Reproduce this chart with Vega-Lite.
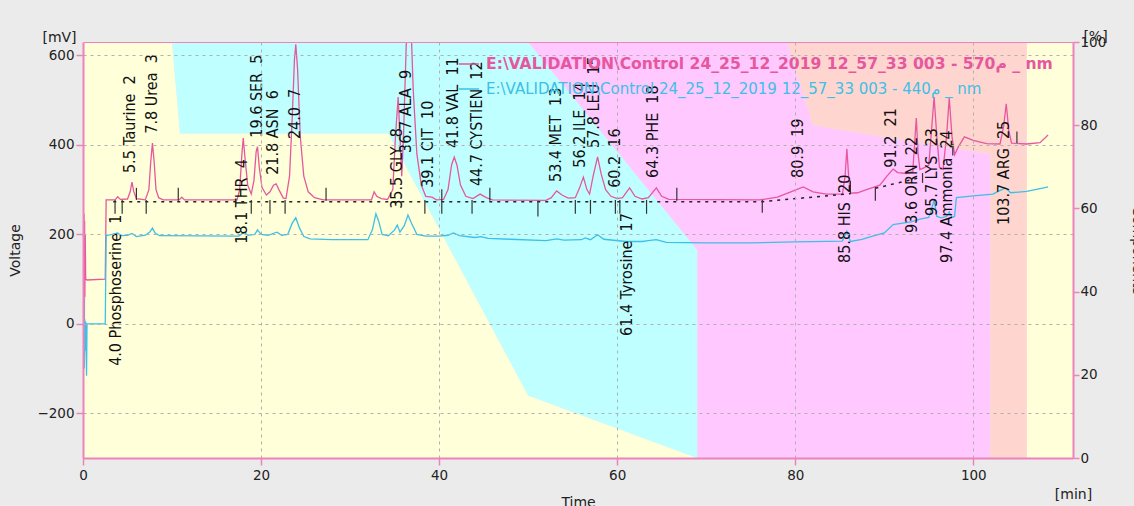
{
"$schema": "https://vega.github.io/schema/vega-lite/v6.json",
"width": 990, "height": 416,
"autosize": {"type": "none"},
"padding": {"left": 83, "top": 42, "right": 61, "bottom": 48},
"background": "#ebebeb",
"config": {"view": {"stroke": null}, "font": "DejaVu Sans"},
"datasets": {
"bands": [
{"b":"A","t":0,"lo":0,"hi":100},{"b":"A","t":10,"lo":0,"hi":100},{"b":"A","t":10.9,"lo":0,"hi":78},{"b":"A","t":34.3,"lo":0,"hi":78},{"b":"A","t":50,"lo":0,"hi":15},{"b":"A","t":69,"lo":0,"hi":0},{"b":"A","t":106,"lo":0,"hi":0},{"b":"A","t":106.01,"lo":0,"hi":100},{"b":"A","t":111.2,"lo":0,"hi":100},
{"b":"B","t":0,"lo":100,"hi":100},{"b":"B","t":10,"lo":100,"hi":100},{"b":"B","t":10.9,"lo":78,"hi":100},{"b":"B","t":34.3,"lo":78,"hi":100},{"b":"B","t":50,"lo":15,"hi":100},{"b":"B","t":69,"lo":0,"hi":50},{"b":"B","t":69.01,"lo":0,"hi":0},{"b":"B","t":111.2,"lo":0,"hi":0},
{"b":"C","t":0,"lo":100,"hi":100},{"b":"C","t":50,"lo":100,"hi":100},{"b":"C","t":69,"lo":50,"hi":100},{"b":"C","t":69.01,"lo":0,"hi":100},{"b":"C","t":79.1,"lo":0,"hi":100},{"b":"C","t":82,"lo":0,"hi":80},{"b":"C","t":101.9,"lo":0,"hi":73},{"b":"C","t":101.91,"lo":0,"hi":0},{"b":"C","t":111.2,"lo":0,"hi":0},
{"b":"D","t":0,"lo":100,"hi":100},{"b":"D","t":79.1,"lo":100,"hi":100},{"b":"D","t":82,"lo":80,"hi":100},{"b":"D","t":101.9,"lo":73,"hi":100},{"b":"D","t":101.91,"lo":0,"hi":100},{"b":"D","t":106,"lo":0,"hi":100},{"b":"D","t":106.01,"lo":0,"hi":0},{"b":"D","t":111.2,"lo":0,"hi":0}
],
"traces": [
{"s":"570","t":0,"v":240},{"s":"570","t":0.03,"v":-20},{"s":"570","t":0.06,"v":250},{"s":"570","t":0.09,"v":30},{"s":"570","t":0.12,"v":245},{"s":"570","t":0.15,"v":-60},{"s":"570","t":0.18,"v":230},{"s":"570","t":0.21,"v":60},{"s":"570","t":0.25,"v":200},{"s":"570","t":0.3,"v":100},{"s":"570","t":0.45,"v":98},{"s":"570","t":2.5,"v":100},{"s":"570","t":2.6,"v":277},{"s":"570","t":3.6,"v":277},{"s":"570","t":3.9,"v":284},{"s":"570","t":4.2,"v":278},{"s":"570","t":5.0,"v":279},{"s":"570","t":5.3,"v":295},{"s":"570","t":5.5,"v":317},{"s":"570","t":5.7,"v":296},{"s":"570","t":6.0,"v":280},{"s":"570","t":7.0,"v":277},{"s":"570","t":7.4,"v":300},{"s":"570","t":7.6,"v":360},{"s":"570","t":7.8,"v":404},{"s":"570","t":8.0,"v":360},{"s":"570","t":8.2,"v":300},{"s":"570","t":8.5,"v":282},{"s":"570","t":9.0,"v":277},{"s":"570","t":10.8,"v":277},{"s":"570","t":11.1,"v":283},{"s":"570","t":11.4,"v":277},{"s":"570","t":17.3,"v":277},{"s":"570","t":17.6,"v":300},{"s":"570","t":17.85,"v":380},{"s":"570","t":18.0,"v":415},{"s":"570","t":18.2,"v":370},{"s":"570","t":18.5,"v":310},{"s":"570","t":18.9,"v":290},{"s":"570","t":19.2,"v":320},{"s":"570","t":19.45,"v":385},{"s":"570","t":19.6,"v":396},{"s":"570","t":19.8,"v":350},{"s":"570","t":20.1,"v":305},{"s":"570","t":20.6,"v":288},{"s":"570","t":21.0,"v":295},{"s":"570","t":21.4,"v":310},{"s":"570","t":21.7,"v":313},{"s":"570","t":22.0,"v":300},{"s":"570","t":22.5,"v":281},{"s":"570","t":22.8,"v":280},{"s":"570","t":23.2,"v":330},{"s":"570","t":23.5,"v":460},{"s":"570","t":23.75,"v":590},{"s":"570","t":23.9,"v":625},{"s":"570","t":24.1,"v":570},{"s":"570","t":24.4,"v":420},{"s":"570","t":24.8,"v":330},{"s":"570","t":25.3,"v":295},{"s":"570","t":26.0,"v":282},{"s":"570","t":27.0,"v":277},{"s":"570","t":32.4,"v":277},{"s":"570","t":32.7,"v":295},{"s":"570","t":33.0,"v":285},{"s":"570","t":33.5,"v":280},{"s":"570","t":34.2,"v":278},{"s":"570","t":34.8,"v":300},{"s":"570","t":35.1,"v":420},{"s":"570","t":35.4,"v":507},{"s":"570","t":35.6,"v":420},{"s":"570","t":35.8,"v":330},{"s":"570","t":36.0,"v":420},{"s":"570","t":36.3,"v":620},{"s":"570","t":36.6,"v":700},{"s":"570","t":36.8,"v":690},{"s":"570","t":37.1,"v":520},{"s":"570","t":37.5,"v":380},{"s":"570","t":38.0,"v":310},{"s":"570","t":38.5,"v":285},{"s":"570","t":39.2,"v":283},{"s":"570","t":39.7,"v":277},{"s":"570","t":40.5,"v":278},{"s":"570","t":41.0,"v":300},{"s":"570","t":41.4,"v":355},{"s":"570","t":41.7,"v":373},{"s":"570","t":42.0,"v":355},{"s":"570","t":42.4,"v":310},{"s":"570","t":43.0,"v":285},{"s":"570","t":43.8,"v":280},{"s":"570","t":44.6,"v":290},{"s":"570","t":45.3,"v":282},{"s":"570","t":46.0,"v":277},{"s":"570","t":52.0,"v":276},{"s":"570","t":52.6,"v":282},{"s":"570","t":53.2,"v":297},{"s":"570","t":53.8,"v":288},{"s":"570","t":54.5,"v":281},{"s":"570","t":55.3,"v":282},{"s":"570","t":55.8,"v":305},{"s":"570","t":56.2,"v":328},{"s":"570","t":56.6,"v":300},{"s":"570","t":56.9,"v":290},{"s":"570","t":57.3,"v":330},{"s":"570","t":57.8,"v":373},{"s":"570","t":58.2,"v":335},{"s":"570","t":58.7,"v":300},{"s":"570","t":59.3,"v":285},{"s":"570","t":60.0,"v":280},{"s":"570","t":60.6,"v":282},{"s":"570","t":61.4,"v":304},{"s":"570","t":62.0,"v":285},{"s":"570","t":62.8,"v":279},{"s":"570","t":63.5,"v":282},{"s":"570","t":64.4,"v":304},{"s":"570","t":65.0,"v":285},{"s":"570","t":65.8,"v":278},{"s":"570","t":76.0,"v":277},{"s":"570","t":78.0,"v":283},{"s":"570","t":79.5,"v":295},{"s":"570","t":80.9,"v":306},{"s":"570","t":82.0,"v":295},{"s":"570","t":83.5,"v":290},{"s":"570","t":85.3,"v":290},{"s":"570","t":85.6,"v":330},{"s":"570","t":85.8,"v":391},{"s":"570","t":86.0,"v":330},{"s":"570","t":86.2,"v":292},{"s":"570","t":87.0,"v":293},{"s":"570","t":88.0,"v":300},{"s":"570","t":89.5,"v":310},{"s":"570","t":90.3,"v":330},{"s":"570","t":91.0,"v":346},{"s":"570","t":91.5,"v":338},{"s":"570","t":92.5,"v":336},{"s":"570","t":93.2,"v":340},{"s":"570","t":93.4,"v":400},{"s":"570","t":93.6,"v":460},{"s":"570","t":93.8,"v":380},{"s":"570","t":94.0,"v":345},{"s":"570","t":94.5,"v":349},{"s":"570","t":95.0,"v":355},{"s":"570","t":95.3,"v":430},{"s":"570","t":95.6,"v":507},{"s":"570","t":95.9,"v":420},{"s":"570","t":96.2,"v":350},{"s":"570","t":96.6,"v":345},{"s":"570","t":97.0,"v":420},{"s":"570","t":97.3,"v":505},{"s":"570","t":97.6,"v":420},{"s":"570","t":97.9,"v":378},{"s":"570","t":98.3,"v":395},{"s":"570","t":99.0,"v":418},{"s":"570","t":100.0,"v":410},{"s":"570","t":101.5,"v":403},{"s":"570","t":103.0,"v":402},{"s":"570","t":103.4,"v":440},{"s":"570","t":103.7,"v":492},{"s":"570","t":104.0,"v":430},{"s":"570","t":104.3,"v":404},{"s":"570","t":106.0,"v":402},{"s":"570","t":107.5,"v":405},{"s":"570","t":108.4,"v":422},
{"s":"440","t":0,"v":0},{"s":"440","t":0.05,"v":-90},{"s":"440","t":0.1,"v":60},{"s":"440","t":0.15,"v":-100},{"s":"440","t":0.2,"v":10},{"s":"440","t":0.25,"v":-60},{"s":"440","t":0.3,"v":5},{"s":"440","t":0.4,"v":-116},{"s":"440","t":0.45,"v":0},{"s":"440","t":2.5,"v":0},{"s":"440","t":2.6,"v":197},{"s":"440","t":3.9,"v":203},{"s":"440","t":4.3,"v":197},{"s":"440","t":5.0,"v":198},{"s":"440","t":5.5,"v":202},{"s":"440","t":6.0,"v":195},{"s":"440","t":7.0,"v":198},{"s":"440","t":7.5,"v":205},{"s":"440","t":7.8,"v":214},{"s":"440","t":8.1,"v":203},{"s":"440","t":8.6,"v":197},{"s":"440","t":17.5,"v":196},{"s":"440","t":18.1,"v":205},{"s":"440","t":18.5,"v":198},{"s":"440","t":19.3,"v":200},{"s":"440","t":19.6,"v":210},{"s":"440","t":20.0,"v":200},{"s":"440","t":20.8,"v":198},{"s":"440","t":21.5,"v":203},{"s":"440","t":21.8,"v":205},{"s":"440","t":22.3,"v":198},{"s":"440","t":23.0,"v":200},{"s":"440","t":23.5,"v":225},{"s":"440","t":23.9,"v":237},{"s":"440","t":24.3,"v":215},{"s":"440","t":24.8,"v":195},{"s":"440","t":25.5,"v":190},{"s":"440","t":28.0,"v":188},{"s":"440","t":32.0,"v":188},{"s":"440","t":32.5,"v":210},{"s":"440","t":32.9,"v":246},{"s":"440","t":33.2,"v":230},{"s":"440","t":33.6,"v":200},{"s":"440","t":34.3,"v":197},{"s":"440","t":35.0,"v":210},{"s":"440","t":35.3,"v":221},{"s":"440","t":35.6,"v":205},{"s":"440","t":36.1,"v":220},{"s":"440","t":36.5,"v":243},{"s":"440","t":36.9,"v":225},{"s":"440","t":37.5,"v":200},{"s":"440","t":38.5,"v":196},{"s":"440","t":40.0,"v":196},{"s":"440","t":41.0,"v":198},{"s":"440","t":41.6,"v":203},{"s":"440","t":42.3,"v":197},{"s":"440","t":44.0,"v":193},{"s":"440","t":44.7,"v":195},{"s":"440","t":45.5,"v":191},{"s":"440","t":48.0,"v":189},{"s":"440","t":52.0,"v":186},{"s":"440","t":53.2,"v":190},{"s":"440","t":54.0,"v":187},{"s":"440","t":56.0,"v":188},{"s":"440","t":56.4,"v":192},{"s":"440","t":57.0,"v":188},{"s":"440","t":57.8,"v":199},{"s":"440","t":58.5,"v":189},{"s":"440","t":61.0,"v":184},{"s":"440","t":62.8,"v":184},{"s":"440","t":63.5,"v":186},{"s":"440","t":64.4,"v":188},{"s":"440","t":65.5,"v":182},{"s":"440","t":70.0,"v":181},{"s":"440","t":75.0,"v":181},{"s":"440","t":80.0,"v":183},{"s":"440","t":85.3,"v":185},{"s":"440","t":85.8,"v":207},{"s":"440","t":86.2,"v":184},{"s":"440","t":87.5,"v":189},{"s":"440","t":88.5,"v":195},{"s":"440","t":90.0,"v":203},{"s":"440","t":91.0,"v":222},{"s":"440","t":93.0,"v":228},{"s":"440","t":94.0,"v":234},{"s":"440","t":95.0,"v":238},{"s":"440","t":95.3,"v":255},{"s":"440","t":95.6,"v":277},{"s":"440","t":95.9,"v":240},{"s":"440","t":96.4,"v":237},{"s":"440","t":97.0,"v":240},{"s":"440","t":97.3,"v":250},{"s":"440","t":97.6,"v":238},{"s":"440","t":97.9,"v":240},{"s":"440","t":98.1,"v":282},{"s":"440","t":100.0,"v":286},{"s":"440","t":102.2,"v":290},{"s":"440","t":103.6,"v":304},{"s":"440","t":104.2,"v":293},{"s":"440","t":106.0,"v":296},{"s":"440","t":107.9,"v":304},{"s":"440","t":108.4,"v":306}
],
"base": [
{"g":1,"t":3.4,"v":273},{"g":1,"t":76.3,"v":273},{"g":1,"t":86.2,"v":291},
{"g":2,"t":89.0,"v":303},{"g":2,"t":94.3,"v":328}
],
"marks": [
{"t":3.6,"a":246,"b":277},{"t":4.4,"a":246,"b":277},{"t":6.0,"a":277,"b":304},{"t":7.1,"a":246,"b":277},{"t":10.7,"a":275,"b":304},{"t":18.9,"a":246,"b":277},{"t":21.0,"a":246,"b":277},{"t":22.7,"a":246,"b":277},{"t":27.3,"a":275,"b":304},{"t":38.4,"a":246,"b":277},{"t":40.3,"a":246,"b":301},{"t":43.7,"a":246,"b":277},{"t":45.7,"a":275,"b":304},{"t":51.1,"a":240,"b":275},{"t":55.3,"a":246,"b":277},{"t":57.0,"a":246,"b":277},{"t":59.8,"a":246,"b":277},{"t":60.3,"a":246,"b":277},{"t":63.3,"a":246,"b":277},{"t":66.7,"a":275,"b":304},{"t":76.3,"a":248,"b":277},{"t":86.2,"a":290,"b":320},{"t":89.0,"a":275,"b":306},{"t":94.3,"a":315,"b":337},{"t":97.7,"a":376,"b":402},{"t":104.9,"a":404,"b":430}
],
"labels": [
{"t":3.7,"v":-94,"txt":"4.0 Phosphoserine\u00a0\u00a01"},
{"t":5.3,"v":337,"txt":"5.5 Taurine\u00a0\u00a02"},
{"t":7.75,"v":425,"txt":"7.8 Urea\u00a0\u00a03"},
{"t":17.85,"v":179,"txt":"18.1 THR\u00a0\u00a04"},
{"t":19.55,"v":416,"txt":"19.6 SER\u00a0\u00a05"},
{"t":21.35,"v":333,"txt":"21.8 ASN\u00a0\u00a06"},
{"t":23.8,"v":413,"txt":"24.0\u00a0\u00a07"},
{"t":35.3,"v":257,"txt":"35.5 GLY\u00a0\u00a08"},
{"t":36.3,"v":382,"txt":"36.7 ALA\u00a0\u00a09"},
{"t":38.75,"v":304,"txt":"39.1 CIT\u00a0\u00a010"},
{"t":41.6,"v":393,"txt":"41.8 VAL\u00a0\u00a011"},
{"t":44.25,"v":308,"txt":"44.7 CYSTIEN\u00a0\u00a012"},
{"t":53.15,"v":317,"txt":"53.4 MET\u00a0\u00a013"},
{"t":55.85,"v":349,"txt":"56.2 ILE\u00a0\u00a014"},
{"t":57.4,"v":393,"txt":"57.8 LEU\u00a0\u00a015"},
{"t":59.8,"v":304,"txt":"60.2\u00a0\u00a016"},
{"t":61.1,"v":-27,"txt":"61.4 Tyrosine\u00a0\u00a017"},
{"t":64.05,"v":326,"txt":"64.3 PHE\u00a0\u00a018"},
{"t":80.35,"v":326,"txt":"80.9\u00a0\u00a019"},
{"t":85.6,"v":136,"txt":"85.8 HIS\u00a0\u00a020"},
{"t":90.8,"v":349,"txt":"91.2\u00a0\u00a021"},
{"t":93.15,"v":203,"txt":"93.6 ORN\u00a0\u00a022"},
{"t":95.4,"v":241,"txt":"95.7 LYS\u00a0\u00a023"},
{"t":97.1,"v":136,"txt":"97.4 Ammonia\u00a0\u00a024"},
{"t":103.4,"v":221,"txt":"103.7 ARG\u00a0\u00a025"}
]
},
"layer": [
{
"data": {"name": "bands"},
"mark": {"type": "area", "clip": true},
"encoding": {
"x": {"field": "t", "type": "quantitative", "scale": {"domain": [0, 111.2], "nice": false, "zero": false},
"axis": {"orient": "bottom", "values": [0, 20, 40, 60, 80, 100], "grid": true, "gridColor": "#b0b0b0", "gridDash": [3, 4], "gridWidth": 1,
"gridOpacity": {"condition": {"test": "datum.value === 0", "value": 0}, "value": 1},
"domainColor": "#ee82bb", "domainWidth": 2, "tickColor": "#ee82bb", "tickSize": 7, "tickWidth": 1.5,
"labelFontSize": 13.5, "labelColor": "#222", "labelPadding": 3, "labelFlush": false,
"title": "Time", "titleFontSize": 14, "titleFontWeight": "normal", "titleColor": "#222", "titleY": 37, "titleBaseline": "top", "zindex": 1}},
"y": {"field": "hi", "type": "quantitative", "scale": {"domain": [0, 100], "nice": false},
"axis": {"orient": "right", "values": [0, 20, 40, 60, 80, 100], "grid": false, "domainColor": "#ee82bb", "domainWidth": 2, "tickColor": "#ee82bb", "tickSize": 6, "tickWidth": 1.5,
"labelFontSize": 13.5, "labelColor": "#222", "labelPadding": 1,
"title": "Components", "titleAngle": 90, "titleFontSize": 14, "titleFontWeight": "normal", "titleColor": "#222", "titleX": 56, "titleY": 208, "titleAlign": "center", "titleBaseline": "bottom", "zindex": 1}},
"y2": {"field": "lo"},
"color": {"field": "b", "type": "nominal", "scale": {"domain": ["A", "B", "C", "D"], "range": ["#ffffd9", "#bfffff", "#ffc8ff", "#ffd5cf"]}, "legend": null}
}
},
{
"data": {"name": "traces"},
"mark": {"type": "line", "clip": true, "strokeWidth": 1.3},
"encoding": {
"x": {"field": "t", "type": "quantitative", "scale": {"domain": [0, 111.2], "nice": false, "zero": false},
"axis": {"orient": "top", "labels": false, "ticks": false, "grid": false, "domain": true, "domainColor": "#ee82bb", "domainWidth": 1.2,
"title": "[mV]", "titleX": -24, "titleY": -5, "titleAngle": 0, "titleAlign": "center", "titleBaseline": "middle", "titleFontSize": 14, "titleFontWeight": "normal", "titleColor": "#222", "zindex": 1}},
"y": {"field": "v", "type": "quantitative", "scale": {"domain": [-300, 630], "nice": false, "zero": false},
"axis": {"orient": "left", "values": [-200, 0, 200, 400, 600], "grid": true, "gridColor": "#b0b0b0", "gridDash": [3, 4], "gridWidth": 1,
"domainColor": "#ee82bb", "domainWidth": 2, "tickColor": "#ee82bb", "tickSize": 7, "tickWidth": 1.5,
"labelFontSize": 13.5, "labelColor": "#222", "labelPadding": 2,
"title": "Voltage", "titleFontSize": 14, "titleFontWeight": "normal", "titleColor": "#222", "titleX": -68, "titleY": 208, "titleAngle": 270, "titleAlign": "center", "titleBaseline": "middle", "zindex": 1}},
"color": {"field": "s", "type": "nominal", "scale": {"domain": ["570", "440"], "range": ["#e6579e", "#3cc0e8"]},
"legend": {"orient": "none", "legendX": 375, "legendY": 11, "title": null, "symbolType": "stroke", "symbolSize": 400, "symbolStrokeWidth": 1.5,
"labelFontSize": 15, "labelOffset": 6, "labelLimit": 800, "rowPadding": 5, "padding": 0,
"labelExpr": "datum.label === '570' ? 'E:\\\\VALIDATION\\\\Control 24_25_12_2019 12_57_33 003 - 570م _ nm' : 'E:\\\\VALIDATION\\\\Control 24_25_12_2019 12_57_33 003 - 440م _ nm'",
"encode": {"labels": {"update": {"fill": {"signal": "datum.label === '570' ? '#e6579e' : '#3cc0e8'"}, "fontWeight": {"signal": "datum.label === '570' ? 'bold' : 'normal'"}, "fontSize": {"signal": "datum.label === '570' ? 15.6 : 15"}}}}}}
}
},
{
"data": {"name": "base"},
"mark": {"type": "line", "strokeDash": [3, 5], "color": "#222", "strokeWidth": 1.5},
"encoding": {
"x": {"field": "t", "type": "quantitative", "scale": {"domain": [0, 111.2], "nice": false, "zero": false},
"axis": {"orient": "top", "labels": false, "ticks": false, "grid": false, "domain": false,
"title": "[%]", "titleX": 1012, "titleY": -6, "titleAngle": 0, "titleAlign": "center", "titleBaseline": "middle", "titleFontSize": 14, "titleFontWeight": "normal", "titleColor": "#222"}},
"y": {"field": "v", "type": "quantitative", "scale": {"domain": [-300, 630], "nice": false, "zero": false}, "axis": null},
"detail": {"field": "g", "type": "nominal"}
}
},
{
"data": {"name": "marks"},
"mark": {"type": "rule", "color": "#333", "strokeWidth": 1.2},
"encoding": {
"x": {"field": "t", "type": "quantitative", "scale": {"domain": [0, 111.2], "nice": false, "zero": false},
"axis": {"orient": "bottom", "labels": false, "ticks": false, "grid": false, "domain": false,
"title": "[min]", "titleX": 990, "titleY": 36, "titleAngle": 0, "titleAlign": "center", "titleBaseline": "middle", "titleFontSize": 14, "titleFontWeight": "normal", "titleColor": "#222"}},
"y": {"field": "a", "type": "quantitative", "scale": {"domain": [-300, 630], "nice": false, "zero": false}, "axis": null},
"y2": {"field": "b"}
}
},
{
"data": {"name": "labels"},
"mark": {"type": "text", "angle": 270, "align": "left", "baseline": "middle", "font": "Liberation Sans Narrow, Arial Narrow, DejaVu Sans Condensed, sans-serif", "fontSize": 16, "color": "#111"},
"encoding": {
"x": {"field": "t", "type": "quantitative", "scale": {"domain": [0, 111.2], "nice": false, "zero": false}, "axis": null},
"y": {"field": "v", "type": "quantitative", "scale": {"domain": [-300, 630], "nice": false, "zero": false}, "axis": null},
"text": {"field": "txt"}
}
}
],
"resolve": {"scale": {"y": "independent", "color": "independent"}, "axis": {"x": "independent", "y": "independent"}}
}
